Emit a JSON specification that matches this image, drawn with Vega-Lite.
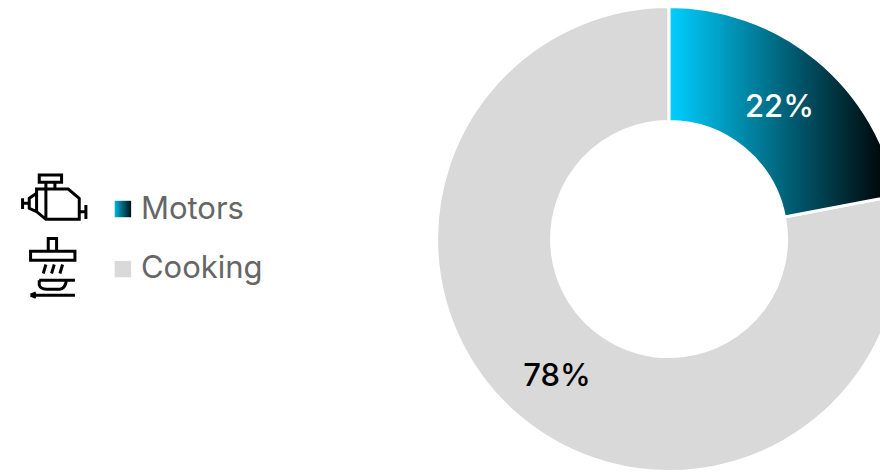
{"$schema":"https://vega.github.io/schema/vega-lite/v6.json","width":880,"height":473,"padding":0,"autosize":{"type":"none"},"background":"white","config":{"view":{"stroke":null},"font":"Inter"},
"datasets":{"share":[{"use":"Motors","pct":22,"start":0,"end":22,"x":0,"y":0},{"use":"Cooking","pct":78,"start":22,"end":100,"x":0,"y":0}],
"labels":[{"use":"Motors","label":"22%","x":47.8,"y":56.8},{"use":"Cooking","label":"78%","x":-48.5,"y":-59.8}],
"legend":[{"use":"Motors","x":-236.4,"y":13},{"use":"Cooking","x":-236.4,"y":-13}],
"legendText":[{"use":"Motors","x":-228.6,"y":12.6},{"use":"Cooking","x":-228.6,"y":-12.9}],
"icons":[{"use":"Motors","x":-266.7,"y":18.2},{"use":"Cooking","x":-266.7,"y":-12.6}]},
"encoding":{"x":{"field":"x","type":"quantitative","scale":{"domain":[-289.6,91.3]},"axis":null},"y":{"field":"y","type":"quantitative","scale":{"domain":[-101.3,103.5]},"axis":null}},
"layer":[
{"data":{"name":"share"},"transform":[{"filter":"datum.use==='Cooking'"}],"mark":{"type":"arc","outerRadius":232.5,"innerRadius":117.5,"stroke":"white","strokeWidth":3,"fill":"#d9d9d9"},
"encoding":{"theta":{"field":"start","type":"quantitative","scale":{"domain":[0,100]}},"theta2":{"field":"end"}}},
{"data":{"name":"share"},"transform":[{"filter":"datum.use==='Motors'"}],"mark":{"type":"arc","outerRadius":232.5,"innerRadius":117.5,"stroke":"white","strokeWidth":3,"fill":{"gradient":"linear","x1":0,"y1":0,"x2":1,"y2":0,"stops":[{"offset":0,"color":"#00cfff"},{"offset":0.97,"color":"#000000"},{"offset":1,"color":"#000000"}]}},
"encoding":{"theta":{"field":"start","type":"quantitative","scale":{"domain":[0,100]}},"theta2":{"field":"end"}}},
{"data":{"name":"labels"},"mark":{"type":"text","fontSize":31,"fontWeight":500,"font":"Inter"},"encoding":{"text":{"field":"label"},"color":{"condition":{"test":"datum.use==='Motors'","value":"white"},"value":"black"}}},
{"data":{"name":"legend"},"transform":[{"filter":"datum.use==='Cooking'"}],"mark":{"type":"square","size":270,"fill":"#d9d9d9","opacity":1}},
{"data":{"name":"legend"},"transform":[{"filter":"datum.use==='Motors'"}],"mark":{"type":"square","size":270,"opacity":1,"fill":{"gradient":"linear","x1":0,"y1":0,"x2":1,"y2":0,"stops":[{"offset":0,"color":"#00b4dc"},{"offset":1,"color":"#001014"}]}}},
{"data":{"name":"legendText"},"mark":{"type":"text","fontSize":31,"font":"Inter","align":"left","color":"#666666"},"encoding":{"text":{"field":"use"}}},
{"data":{"name":"icons"},"transform":[{"filter":"datum.use==='Motors'"}],"mark":{"type":"point","filled":false,"stroke":"black","strokeWidth":3,"opacity":1,"size":4096,"shape":"M-0.427 -0.6875H0.271V-0.458H-0.427Z M-0.219 -0.458V0.698 M0.0625 -0.458V-0.25 M-0.51 -0.25H0.479L0.823 0.042V0.698H-0.219L-0.51 0.458Z M-0.51 -0.115L-0.74 0.042V0.354L-0.51 0.458 M-0.948 0.042V0.375 M-0.948 0.198H-0.74 M0.823 0.458H1.031 M1.031 0.25V0.6875"}},
{"data":{"name":"icons"},"transform":[{"filter":"datum.use==='Cooking'"}],"mark":{"type":"point","filled":false,"stroke":"black","strokeWidth":3,"opacity":1,"size":4096,"shape":"M-0.146 -0.531V-0.927H0.115V-0.531 M-0.698 -0.531H0.688V-0.25H-0.698Z M-0.302 0.167L-0.219 -0.115 M-0.042 0.167L0.042 -0.115 M0.219 0.167L0.302 -0.115 M-0.427 0.375H0.688 M-0.427 0.375V0.531Q-0.385 0.656 -0.198 0.656H0.219Q0.375 0.656 0.427 0.375 M-0.698 0.844H0.688 M-0.698 0.844L-0.531 0.771 M-0.698 0.844L-0.531 0.917"}}
]}
